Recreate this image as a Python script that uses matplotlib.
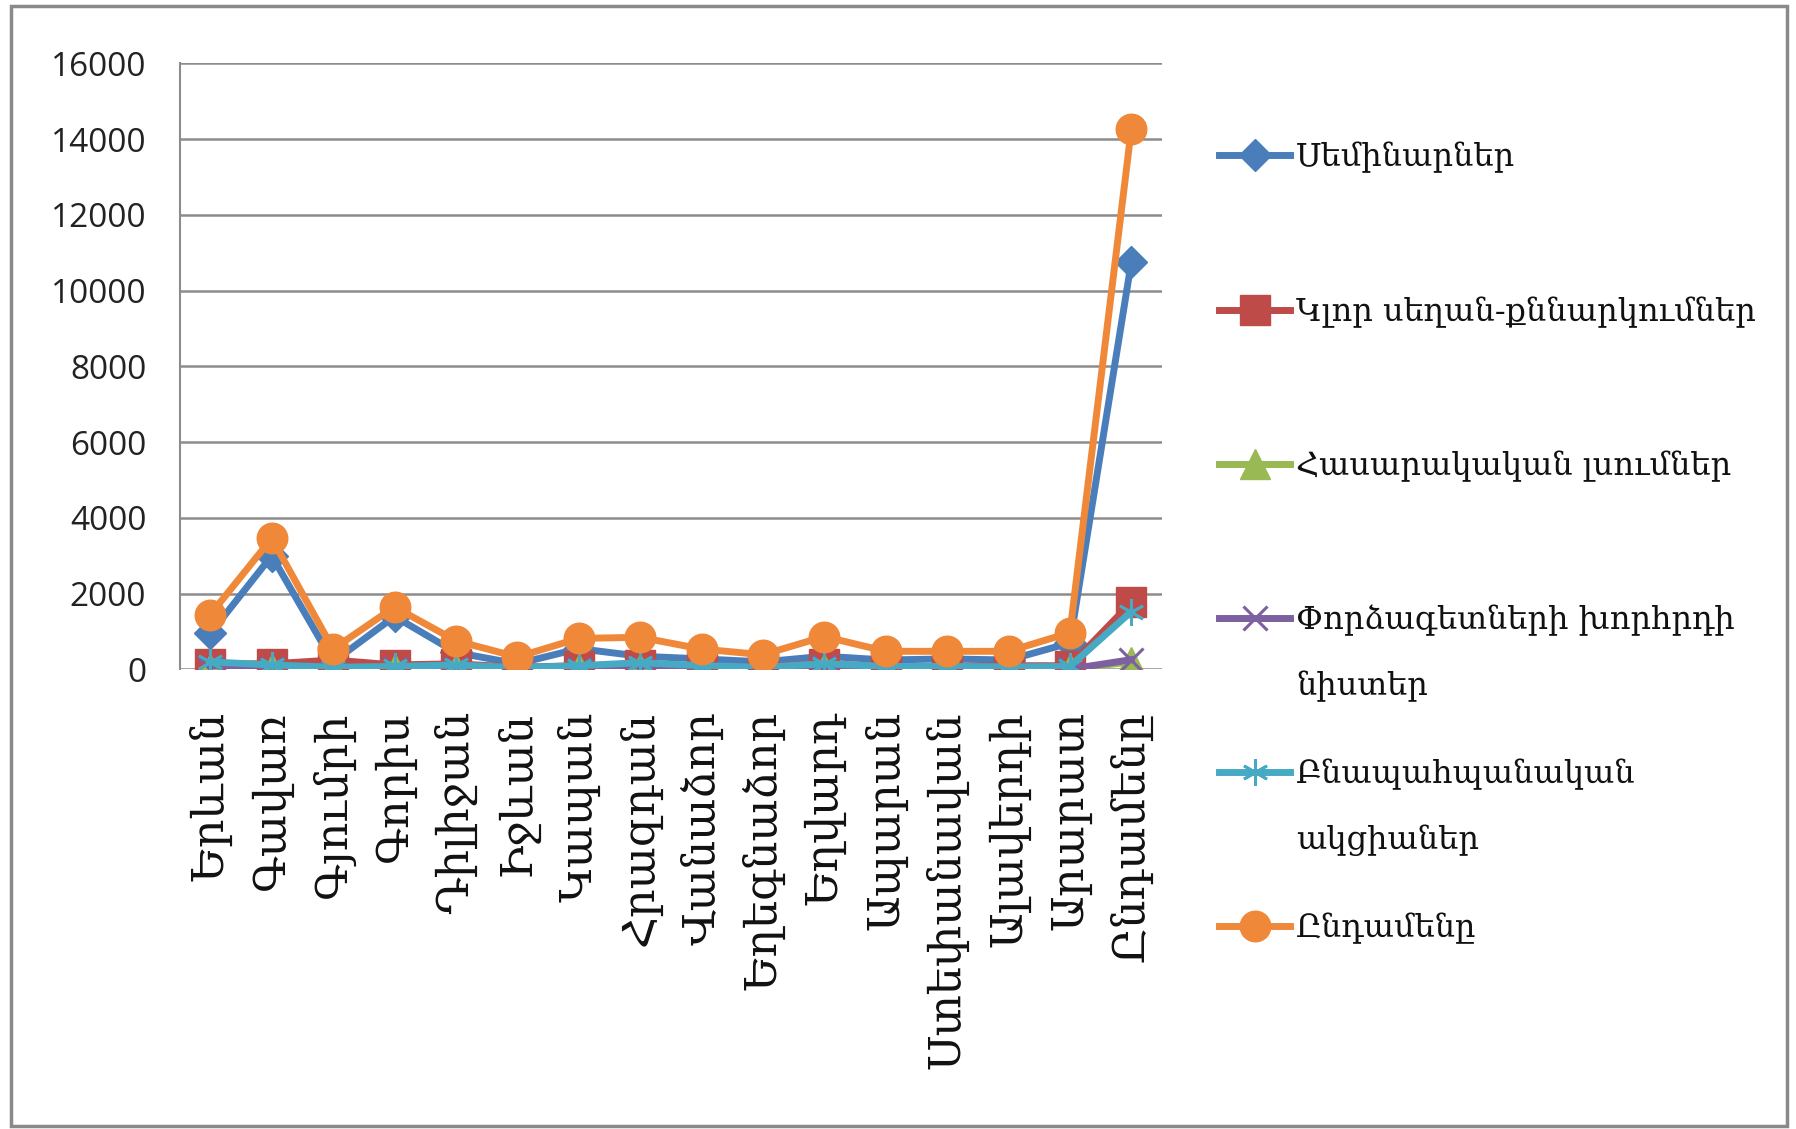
import matplotlib
matplotlib.use("Agg")
import matplotlib.pyplot as plt
from matplotlib.patches import Rectangle

# Cities (x categories)
cities = ["Երևան", "Գավառ", "Գյումրի", "Գորիս", "Դիլիջան", "Իջևան", "Կապան",
          "Հրազդան", "Վանաձոր", "Եղեգնաձոր", "Եղվարդ", "Ապարան",
          "Ստեփանավան", "Ալավերդի", "Արարատ", "Ընդամենը"]

# Series values
seminars = [950, 3000, 200, 1400, 450, 150, 550, 350, 280, 200, 350, 250, 280, 250, 700, 10750]
round_tables = [150, 150, 250, 120, 150, 60, 100, 120, 80, 80, 150, 80, 80, 100, 100, 1770]
hearings = [20, 15, 10, 10, 20, 10, 15, 15, 10, 10, 20, 10, 10, 10, 10, 200]
expert_councils = [20, 15, 10, 15, 10, 10, 15, 40, 15, 10, 60, 10, 10, 10, 10, 260]
actions = [200, 120, 60, 80, 120, 50, 100, 180, 100, 60, 150, 80, 80, 70, 80, 1530]
totals = [1450, 3460, 540, 1650, 760, 330, 820, 850, 540, 390, 870, 480, 480, 480, 970, 14260]

series_names = ["Սեմինարներ", "Կլոր սեղան-քննարկումներ", "Հասարակական լսումներ",
                "Փորձագետների խորհրդի", "Բնապահպանական", "Ընդամենը"]
wrapped_tails = {3: "նիստեր", 4: "ակցիաներ"}

yticks = list(range(0, 16001, 2000))

arm_font = ["DejaVu Serif", "DejaVu Sans"]

fig = plt.figure(figsize=(17.96, 11.29), dpi=100)
ax = fig.add_axes([0.100, 0.407, 0.547, 0.537])

x = list(range(len(cities)))
styles = [
    (seminars, "#4A7EBB", "D", 16, {}),
    (round_tables, "#BE4B48", "s", 21, {}),
    (hearings, "#98B954", "^", 21, {}),
    (expert_councils, "#7D60A0", "x", 17, {"markeredgewidth": 2.2}),
    (actions, "#46AAC5", (6, 2, 0), 19, {"markeredgewidth": 2}),
    (totals, "#F0883A", "o", 22, {}),
]
handles = []
for vals, color, marker, ms, extra in styles:
    (ln,) = ax.plot(x, vals, color=color, lw=5, marker=marker, markersize=ms,
                    markerfacecolor=color, markeredgecolor=color, **extra)
    handles.append(ln)

ax.set_xlim(-0.5, len(cities) - 0.5)
ax.set_ylim(0, 16000)
ax.set_yticks(yticks)
ax.set_yticklabels([str(v) for v in yticks], fontsize=24, family="Open Sans", color="#222222")
ax.set_xticks(x)
ax.set_xticklabels(cities, rotation=90, fontsize=32, family=arm_font, color="#111111")
ax.tick_params(axis="x", length=0, pad=30)
ax.tick_params(axis="y", length=0, pad=24)

ax.grid(axis="y", color="#8c8c8c", lw=1.8)
ax.set_axisbelow(True)
for side in ["top", "right", "bottom"]:
    ax.spines[side].set_visible(False)
ax.spines["left"].set_color("#8c8c8c")
ax.spines["left"].set_linewidth(1.5)

leg = fig.legend(handles, series_names, loc="upper left", bbox_to_anchor=(0.679, 0.874),
                 frameon=False, borderpad=0, borderaxespad=0, labelspacing=3.84,
                 handlelength=2.2, handletextpad=0.2,
                 prop={"family": arm_font, "size": 23})
for t in leg.get_texts():
    t.set_color("#111111")

# second lines of the wrapped legend labels
fig.canvas.draw()
W, H = fig.bbox.width, fig.bbox.height
for idx, tail in wrapped_tails.items():
    bb = leg.get_texts()[idx].get_window_extent()
    fig.text(bb.x0 / W, (bb.y1 - 66) / H, tail, va="top", ha="left",
             fontsize=23, family=arm_font, color="#111111")

# chart area border
fig.patches.append(Rectangle((0.006, 0.003), 0.989, 0.992, transform=fig.transFigure,
                             fill=False, ec="#8a8a8a", lw=2.5))

fig.savefig("out.png", dpi=100)
